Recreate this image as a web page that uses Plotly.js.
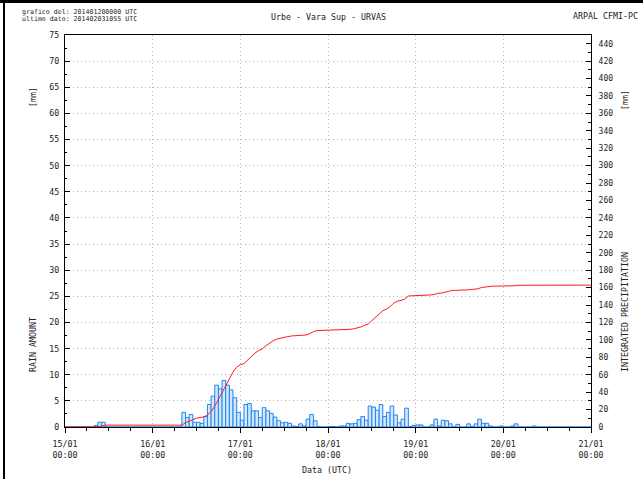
<!DOCTYPE html>
<html><head><meta charset="utf-8">
<script src="https://cdn.plot.ly/plotly-3.0.1.min.js"></script>
<style>
html,body{margin:0;padding:0;background:#fff;}
#wrap{position:relative;width:643px;height:479px;overflow:hidden;}
#chart{position:absolute;left:0;top:0;width:643px;height:479px;}
.bt{position:absolute;left:0;top:0;width:643px;height:3px;background:#000;}
.bl{position:absolute;left:3px;top:0;width:2px;height:479px;background:#000;}
</style></head>
<body><div id="wrap"><div id="chart"></div><div class="bt"></div><div class="bl"></div></div>
<script>
// Hourly rain (mm), 15/01 00:00 -> 21/01 00:00, one value per hour (144)
const rainHourly = [
 0,0,0,0,0,0,0,0,0.3,0.9,0.9,0,0,0,0,0,0,0,0,0,0,0,0,0,
 0,0,0,0,0,0,0,0,2.8,1.8,2.4,0.9,0.9,0.7,2.0,4.3,5.9,8.0,7.3,8.9,8.0,7.1,5.6,2.8,
 1.3,4.3,4.5,3.1,3.1,1.8,3.7,3.1,2.6,1.9,1.2,0.8,0.9,0.7,0.2,0.1,0.6,0.2,1.5,2.4,1.2,0.1,0,0,
 0.1,0.1,0,0.2,0.2,0.7,0.6,0.7,1.4,2.0,1.3,4.0,3.8,3.2,4.3,2.0,2.8,4.0,2.3,0.8,1.5,3.6,0.1,0.3,
 0.4,0.4,0,0,0.4,1.5,0.2,1.3,1.2,0.6,0,0.5,0,0,0.6,0.1,0.6,1.5,0.7,0.7,0.2,0,0,0.2,
 0,0,0.2,0.6,0,0,0,0,0.2,0,0,0,0,0,0,0,0,0,0,0,0,0,0,0
];
// Integrated precipitation (mm) at each hour boundary (145 values)
const rainIntegrated = [
 0,0,0,0,0,0,0,0,0,0.3,1.2,2.1,2.1,2.1,2.1,2.1,2.1,2.1,2.1,2.1,2.1,2.1,2.1,2.1,
 2.1,2.1,2.1,2.1,2.1,2.1,2.1,2.1,2.1,4.9,6.7,9.1,10.0,10.9,11.6,13.6,17.9,23.8,31.8,39.1,48.0,56.0,63.1,68.7,
 71.5,72.8,77.1,81.6,84.7,87.8,89.6,93.3,96.4,99.0,100.9,102.1,102.9,103.8,104.5,104.7,104.8,105.4,105.6,107.1,109.5,110.7,110.8,110.8,
 110.8,110.9,111.0,111.0,111.2,111.4,112.1,112.7,113.4,114.8,116.8,118.1,122.1,125.9,129.1,133.4,135.4,138.2,142.2,144.5,145.3,146.8,150.4,150.5,
 150.8,151.2,151.6,151.6,151.6,152.0,153.5,153.7,155.0,156.2,156.8,156.8,157.3,157.3,157.3,157.9,158.0,158.6,160.1,160.8,161.5,161.7,161.7,161.7,
 161.9,161.9,161.9,162.1,162.7,162.7,162.7,162.7,162.7,162.9,162.9,162.9,162.9,162.9,162.9,162.9,162.9,162.9,162.9,162.9,162.9,162.9,162.9,162.9,
 162.9
];
const dayLabels = ['15/01','16/01','17/01','18/01','19/01','20/01','21/01'];
const timeLabel = '00:00';

const barX = rainHourly.map((v,i)=>i+0.5);
const cumX = rainIntegrated.map((v,i)=>i);
const tickVals = dayLabels.map((d,i)=>i*24);
const tickText = dayLabels.map(d=>d+'<br>'+timeLabel);

const FONT = 'DejaVu Sans Mono, monospace';
const txt = '#222';

const traces = [
  {type:'bar', x:barX, y:rainHourly, width:1, xaxis:'x', yaxis:'y',
   marker:{color:'#d3e8fc', line:{color:'#1f86f0', width:1}}, hoverinfo:'skip'},
  {type:'scatter', mode:'lines', x:cumX, y:rainIntegrated, xaxis:'x', yaxis:'y2',
   line:{color:'#ff1a1a', width:1}, hoverinfo:'skip'}
];

function ann(text,x,y,opts){
  return Object.assign({text:text, x:x, y:y, xref:'paper', yref:'paper', showarrow:false,
    xanchor:'center', yanchor:'middle',
    font:{family:FONT, size:8.3, color:txt}}, opts||{});
}
const W=526, H=392, L=65, T=35;
const px = v => (v-L)/W, py = v => (T+H-v)/H;
const GRID = {gridcolor:'#b4b4b4', griddash:'1px,3px', gridwidth:1};

const layout = {
  width:643, height:479, margin:{l:65, r:52, t:35, b:52},
  paper_bgcolor:'#fff', plot_bgcolor:'#fff', showlegend:false, bargap:0,
  font:{family:FONT, size:8.3, color:txt},
  xaxis:Object.assign({range:[0,144], tickvals:tickVals, ticktext:tickText, ticks:'outside', ticklen:5,
    tickcolor:'#000', showline:true, linecolor:'#000', linewidth:1, mirror:true,
    showgrid:true, zeroline:false,
    minor:{dtick:6, tick0:0, ticks:'outside', ticklen:3, tickcolor:'#000', showgrid:false},
    ticklabelstandoff:4, tickfont:{family:FONT, size:8.3, color:txt}}, GRID),
  xaxis2:{overlaying:'x', side:'top', range:[0,144], tickvals:tickVals, ticks:'inside', ticklen:5,
    tickcolor:'#000', showticklabels:false, showgrid:false, zeroline:false, showline:false,
    minor:{dtick:6, tick0:0, ticks:'inside', ticklen:2, tickcolor:'#000', showgrid:false}},
  yaxis:Object.assign({range:[0,75], dtick:5, ticks:'inside', ticklen:5, tickcolor:'#000', showline:true,
    linecolor:'#000', linewidth:1, showgrid:true, zeroline:false,
    minor:{dtick:2.5, ticks:'inside', ticklen:2, tickcolor:'#000', showgrid:false},
    ticklabelstandoff:3, tickfont:{family:FONT, size:8.3, color:txt}}, GRID),
  yaxis2:{range:[0,450], dtick:20, overlaying:'y', side:'right', anchor:'x', ticks:'inside', ticklen:5,
    tickcolor:'#000', showline:true, linecolor:'#000', linewidth:1, showgrid:false, zeroline:false,
    minor:{dtick:10, ticks:'inside', ticklen:3, tickcolor:'#000', showgrid:false},
    ticklabelstandoff:5, tickfont:{family:FONT, size:8, color:txt}},
  annotations:[
    ann('grafico del: 201401200000 UTC', px(20), py(12), {xanchor:'left', font:{family:FONT,size:6.6,color:txt}}),
    ann('ultimo dato: 201402031055 UTC', px(20), py(19), {xanchor:'left', font:{family:FONT,size:6.6,color:txt}}),
    ann('Urbe - Vara Sup - URVAS', px(328), py(17)),
    ann('ARPAL CFMI-PC', px(640), py(16), {xanchor:'right'}),
    ann('RAIN AMOUNT', px(33), py(345), {textangle:-90}),
    ann('[mm]', px(33), py(97), {textangle:-90}),
    ann('INTEGRATED PRECIPITATION', px(625), py(312), {textangle:-90}),
    ann('[mm]', px(625), py(100), {textangle:-90}),
    ann('Data (UTC)', px(327), py(470))
  ]
};
Plotly.newPlot('chart', traces, layout, {staticPlot:true, displayModeBar:false});
</script></body></html>
